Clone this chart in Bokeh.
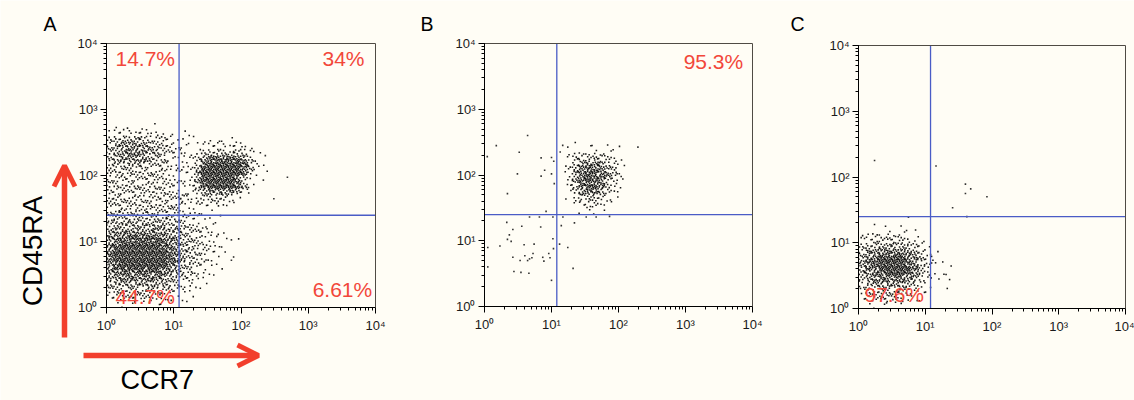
from bokeh.plotting import figure
from bokeh.models import (Range1d, LogScale, LogAxis, LogTicker, FixedTicker, Label,
                          Arrow, OpenHead, CustomJSTickFormatter)
from bokeh.embed import file_html
from bokeh.resources import INLINE

# ---------------- data ----------------
panel_letters = ["A", "B", "C"]
x_title = "CCR7"
y_title = "CD45RA"
gate_ccr7 = [12, 12, 12]          # vertical gate, CCR7 value
gate_cd45ra = [25, 25, 25]        # horizontal gate, CD45RA value
axis_min, axis_max = 1, 1e4
pct_A = ["14.7%", "34%", "44.7%", "6.61%"]   # UL, UR, LL, LR
pct_B = ["95.3%"]                             # UR
pct_C = ["97.6%"]                             # LL

# event density per 0.1-decade cell (digit 0-9), rows listed from top row down,
# column 0 = 10^0.0..10^0.1 of CCR7
dens_A_top = 27
dens_A = [
    "010101010000",
    "1222222211011",
    "3454543332111011111100",
    "4566665443221112222221",
    "45677655432212344444321",
    "45666654322223688888631",
    "344544333222248999998421",
    "334433333222259999998411",
    "3333333332222599999731",
    "3333333333222489999852",
    "3333333333222356666421",
    "33333333333322333321",
    "3333333333322222221",
    "3444444433322211",
    "44444444443322111",
    "45555555544332211",
    "566666666554332211",
    "67788888766443221101",
    "689999998765433221",
    "799999999775433211",
    "7999999998754322101",
    "68999999976443211",
    "678888887654322101",
    "5677777765433211",
    "455555555432211",
    "34444444332211",
    "2233333222111",
    "011111111001",
]
dens_B_top = 24
dens_B = [
    "0000000000000101101010",
    "00000000000011222211",
    "000000000000134443321",
    "000000000000246776431",
    "000000000000257887531",
    "000000000000258987532",
    "000000000000247887421",
    "00000000000013677532",
    "00000000000012444321",
    "0000000000000123321",
    "000000000000001111",
]
dens_C_top = 12
dens_C = [
    "0010101000",
    "1121212110",
    "2233333221",
    "34455554321",
    "466777765321",
    "5789999764211",
    "57899998743101",
    "56789998642111",
    "45677776532011",
    "34555554321001",
    "23444443211",
    "1233332211",
    "0111111000",
]
# isolated events
out_A_x = [490, 308, 230, 72, 72, 215]
out_A_y = [94, 44.5, 200, 10.6, 5.2, 85]
out_B_x = [4.4, 1.5, 1.1, 3.3, 3.1, 2.2, 7, 10, 10.8, 7.9, 7, 10, 11, 14.7, 17.5, 195,
           8.3, 4.7, 6.6, 10.5, 14.8, 33, 46.4, 73.5, 22, 14, 2.15, 2.65, 3.6, 6.9,
           2.35, 2.2, 2.5, 10.5, 13.2, 1.12, 1.7, 3.9, 5.5, 10.7, 17.5, 9.1, 5.3, 2.65,
           4, 4.7, 5.1, 7.4, 9.5, 3.4, 4.4, 7.7, 21, 1.12, 2.75, 3.5, 4.6, 10, 13.5]
out_B_y = [398, 280, 190, 222, 104, 52, 182, 185, 162, 118, 96, 104, 74, 282, 265, 265,
           28, 23, 23, 23, 23, 23, 23, 23.5, 18.7, 17, 19, 14.8, 16.6, 16.2,
           12.3, 10.5, 9.8, 10.7, 8.9, 7.9, 8.3, 8.7, 8.9, 7.6, 7.9, 6.4, 6.4, 5.6,
           5.9, 5.3, 5.5, 5.6, 5.5, 5.0, 5.0, 4.9, 3.8, 4.0, 3.4, 3.3, 3.2, 2.5, 224]
out_C_x = [1.74, 14.5, 40, 40, 48, 84, 25.7, 5.6, 42]
out_C_y = [178, 147, 78, 56, 66, 50, 34, 24.5, 25]

# ---------------- style / layout ----------------
W, H = 1134, 400
BG = "#FFFDF5"
RED = "#F2473A"
ARROW_RED = "#F23F2C"
GATE = "#4A5CC6"
BOX = "#4F4B44"
FONT = "Liberation Sans"
# plot-box pixel edges (left, right, top, bottom) of the three panels
FRAMES = {"A": (106, 375, 43, 307), "B": (484, 752, 43, 306), "C": (858, 1125, 45, 308)}
SUB = [(0.12, 0.18), (0.62, 0.08), (0.38, 0.55), (0.88, 0.45), (0.20, 0.85), (0.70, 0.72),
       (0.45, 0.28), (0.95, 0.92), (0.05, 0.50), (0.55, 0.95), (0.30, 0.05), (0.80, 0.20),
       (0.15, 0.35), (0.65, 0.40), (0.40, 0.78), (0.90, 0.65)]
NDOTS = [0, 1, 2, 4, 5, 7, 9, 11, 13, 16]


def cloud(rows, top):
    xs, ys = [], []
    for r, line in enumerate(rows):
        j = top - r
        for i, ch in enumerate(line):
            n = NDOTS[int(ch)]
            k0 = (i * 5 + j * 3) % 16
            for k in range(n):
                u, v = SUB[(k0 + k) % 16]
                xs.append(10 ** ((i + u) * 0.1))
                ys.append(10 ** ((j + v) * 0.1))
    return xs, ys


xr, yr, xs_, ys_ = {}, {}, {}, {}
for nm, (L, R, T, B) in FRAMES.items():
    dx = (R - L) / 4.0
    dy = (B - T) / 4.0
    xr["x" + nm] = Range1d(10 ** (-L / dx), 10 ** ((W - L) / dx))
    yr["y" + nm] = Range1d(10 ** ((B - H) / dy), 10 ** (B / dy))
    xs_["x" + nm] = LogScale()
    ys_["y" + nm] = LogScale()

p = figure(width=W, height=H, x_range=(0, W), y_range=(0, H),
           x_axis_location=None, y_axis_location=None, toolbar_location=None,
           output_backend="svg", min_border=0, outline_line_color=None,
           background_fill_color=BG, border_fill_color=BG,
           extra_x_ranges=xr, extra_y_ranges=yr, extra_x_scales=xs_, extra_y_scales=ys_)
p.grid.visible = False

TICK_JS = ('const s=["\\u2070","\\u00b9","\\u00b2","\\u00b3","\\u2074"];'
           'const e=Math.round(Math.log10(tick));return "10"+(s[e]||"");')


def axes(nm):
    kw = dict(x_range_name="x" + nm, y_range_name="y" + nm, bounds=(axis_min, axis_max))
    for side in ("left", "below"):
        ax = LogAxis(fixed_location=axis_min,
                     ticker=LogTicker(desired_num_ticks=6, num_minor_ticks=10),
                     formatter=CustomJSTickFormatter(code=TICK_JS),
                     major_tick_in=0, major_tick_out=6, minor_tick_in=0, minor_tick_out=3,
                     axis_line_color="black", major_tick_line_color="black",
                     minor_tick_line_color="black", major_label_text_font=FONT,
                     major_label_text_font_size="13px", major_label_text_color="#1a1a1a",
                     major_label_standoff=4 if side == "below" else 3, **kw)
        p.add_layout(ax, side)
    for side in ("above", "right"):
        ax = LogAxis(fixed_location=axis_max, ticker=FixedTicker(ticks=[], minor_ticks=[]),
                     axis_line_color=BOX, axis_line_width=1, **kw)
        p.add_layout(ax, side)


def panel(nm, dens, top, ox, oy, gx, gy):
    xs, ys = cloud(dens, top)
    kw = dict(x_range_name="x" + nm, y_range_name="y" + nm)
    p.scatter(xs, ys, marker="square", size=1.55, fill_color="black", line_color=None,
              fill_alpha=0.9, **kw)
    p.scatter(ox, oy, marker="square", size=1.6, fill_color="#333333", line_color=None, **kw)
    p.segment(x0=[gx], y0=[axis_min], x1=[gx], y1=[axis_max], line_color=GATE,
              line_width=1.3, **kw)
    p.segment(x0=[axis_min], y0=[gy], x1=[axis_max], y1=[gy], line_color=GATE,
              line_width=1.3, **kw)
    axes(nm)


def text(t, x, y, size, color="black", align="left", angle=0.0):
    p.add_layout(Label(x=x, y=H - y, x_units="screen", y_units="screen", text=t,
                       text_font=FONT, text_font_size=size, text_color=color,
                       text_align=align, text_baseline="alphabetic", angle=angle))


panel("A", dens_A, dens_A_top, out_A_x, out_A_y, gate_ccr7[0], gate_cd45ra[0])
panel("B", dens_B, dens_B_top, out_B_x, out_B_y, gate_ccr7[1], gate_cd45ra[1])
panel("C", dens_C, dens_C_top, out_C_x, out_C_y, gate_ccr7[2], gate_cd45ra[2])

# panel letters (page pixel positions; y already compensates the label anchor)
text(panel_letters[0], 43, 23, "19.5px")
text(panel_letters[1], 420, 23, "19.5px")
text(panel_letters[2], 790, 23, "19.5px")

# quadrant percentages
text(pct_A[0], 115, 57.5, "21px", RED)
text(pct_A[1], 364, 57.5, "21px", RED, "right")
text(pct_A[2], 115, 295.5, "21px", RED)
text(pct_A[3], 371.7, 288.5, "21px", RED, "right")
text(pct_B[0], 742.7, 61, "21px", RED, "right")
text(pct_C[0], 864, 294.3, "21px", RED)

# axis titles and arrows of panel A
text(y_title, 32, 250.5, "28px", "black", "center", 1.5707963)
text(x_title, 156.7, 379.5, "27px", "black", "center")
p.add_layout(Arrow(end=OpenHead(size=21, line_color=ARROW_RED, line_width=5),
                   x_start=64, y_start=H - 337, x_end=64, y_end=H - 165,
                   start_units="screen", end_units="screen",
                   line_color=ARROW_RED, line_width=5.5))
p.add_layout(Arrow(end=OpenHead(size=21, line_color=ARROW_RED, line_width=5),
                   x_start=83, y_start=H - 355, x_end=258, y_end=H - 355,
                   start_units="screen", end_units="screen",
                   line_color=ARROW_RED, line_width=5.5))

html = file_html(p, INLINE)
html = html.replace("<body>", '<body style="background-color:#FFFDF5">', 1)
open("out.html", "w").write(html)
